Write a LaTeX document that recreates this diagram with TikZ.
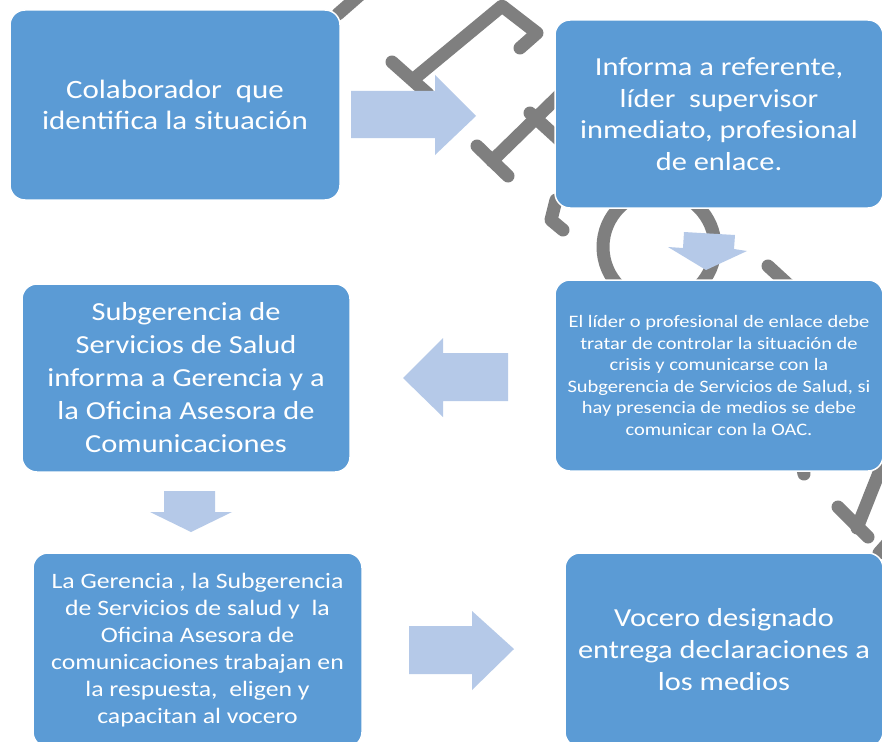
\documentclass[tikz,border=0pt]{standalone}
\usepackage{fontspec}
\setmainfont{Carlito}
\newfontfamily\boxfont[FakeStretch=1.17]{Carlito}
\definecolor{boxblue}{RGB}{91,155,213}
\definecolor{arrowblue}{RGB}{181,201,232}
\definecolor{bggray}{RGB}{127,127,127}
\tikzset{
  bgline/.style={draw=bggray,line width=13pt,line cap=round,line join=round},
  flowbox/.style={rectangle,rounded corners=15pt,fill=boxblue,draw=white,line width=1.5pt,text=white,align=center,inner sep=0pt},
  blockarrow/.style={fill=arrowblue,draw=none}
}
\begin{document}
\begin{tikzpicture}[x=1pt,y=-1pt]
\useasboundingbox (0,0) rectangle (882,741);
\clip (0,0) rectangle (882,741);
\fill[white] (0,0) rectangle (882,741);
% background gray figure
\draw[bgline] (338,14) -- (370,-14);
\draw[bgline] (415,78) -- (502,6) -- (537,33) -- (520,48);
\draw[bgline] (392,62) -- (428,94);
\draw[bgline] (492,161) -- (575,80);
\draw[bgline] (477,146) -- (508,176);
\draw[bgline] (530,113) -- (565,145);
\draw[bgline] (556,200) -- (551,220) -- (563,230);
\draw[bgline] (659,247) circle (56);
\draw[bgline] (768,266) -- (805,300);
\draw[bgline] (800,455) -- (804,474);
\draw[bgline] (892,440) -- (857,528);
\draw[bgline] (838,507) -- (868,537);
\draw[bgline] (895,535) -- (879,553);
% block arrows
\fill[blockarrow] (351,91) -- (435,91) -- (435,75) -- (476,116) -- (435,155) -- (435,138) -- (351,138) -- cycle;
\fill[blockarrow] (684,232) -- (735,235) -- (734,249) -- (747,251) -- (706,270) -- (668,247) -- (683,248) -- cycle;
\fill[blockarrow] (508,353) -- (443,353) -- (443,338) -- (403,378) -- (443,417) -- (443,401) -- (508,401) -- cycle;
\fill[blockarrow] (164,491) -- (215,491) -- (215,512) -- (232,512) -- (191,532) -- (150,512) -- (164,512) -- cycle;
\fill[blockarrow] (409,626) -- (472,626) -- (472,611) -- (514,649) -- (472,690) -- (472,674) -- (409,674) -- cycle;
% boxes
\node[flowbox,minimum width=330pt,minimum height=190pt,font=\boxfont\fontsize{26.5}{31}\selectfont] (b1) at (175,105)
  {Colaborador\ \ que\\identifica la situación};
\node[flowbox,minimum width=328pt,minimum height=188pt,font=\boxfont\fontsize{26}{31.5}\selectfont] (b2) at (719,114)
  {Informa a referente,\\líder\ \ supervisor\\inmediato, profesional\\de enlace.};
\node[flowbox,minimum width=328pt,minimum height=191pt,font=\boxfont\fontsize{17.5}{21.6}\selectfont] (b3) at (719,375.5)
  {El líder o profesional de enlace debe\\tratar de controlar la situación de\\crisis y comunicarse con la\\Subgerencia de Servicios de Salud, si\\hay presencia de medios se debe\\comunicar con la OAC.};
\node[flowbox,minimum width=328pt,minimum height=188pt,font=\boxfont\fontsize{26}{33}\selectfont] (b4) at (186,378)
  {Subgerencia de\\Servicios de Salud\\informa a Gerencia y a\\la Oficina Asesora de\\Comunicaciones};
\node[flowbox,minimum width=329pt,minimum height=194pt,font=\boxfont\fontsize{22}{27}\selectfont] (b5) at (197.5,650)
  {La Gerencia , la Subgerencia\\de Servicios de salud y\ \ la\\Oficina Asesora de\\comunicaciones trabajan en\\la respuesta,\ \ eligen y\\capacitan al vocero};
\node[flowbox,minimum width=318pt,minimum height=194pt,font=\boxfont\fontsize{26}{32}\selectfont] (b6) at (724,650)
  {Vocero designado\\entrega declaraciones a\\los medios};
\end{tikzpicture}
\end{document}
